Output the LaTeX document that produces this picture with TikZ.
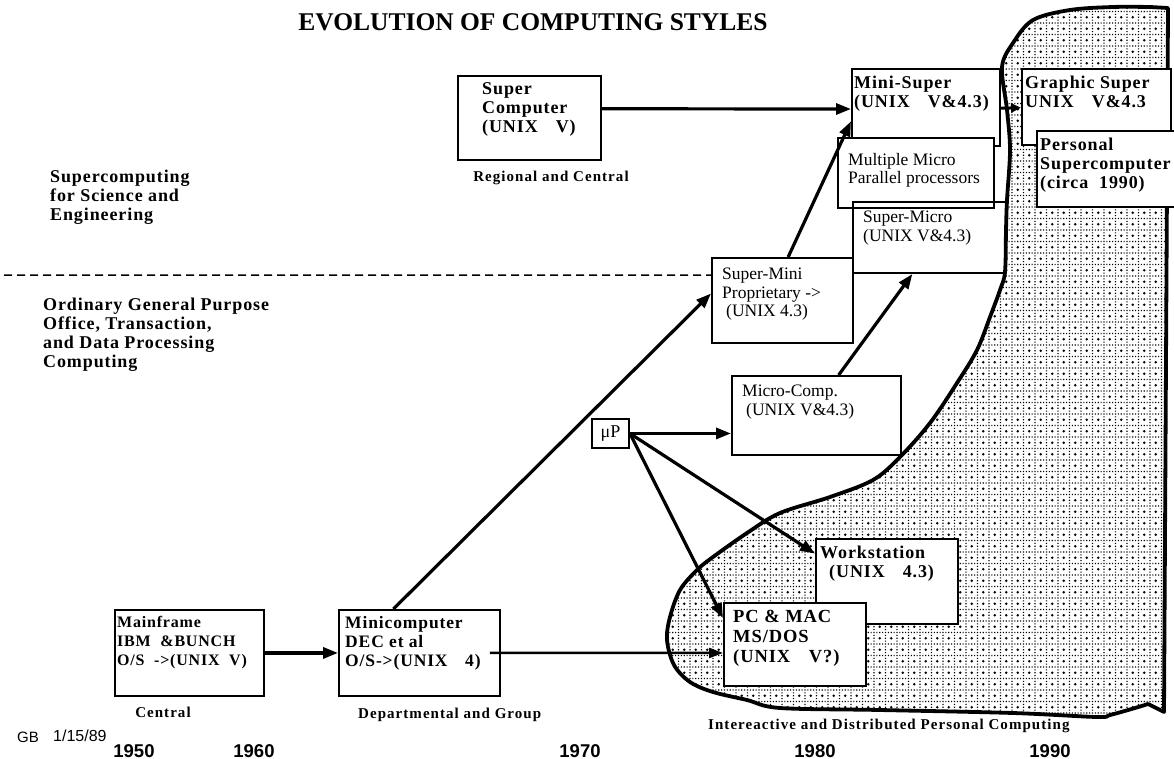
\documentclass[tikz,border=0pt]{standalone}
\usepackage{fontspec}
\setmainfont{Liberation Serif}
\setsansfont{Liberation Sans}
\newfontfamily\spacedserif{Liberation Serif}[LetterSpace=5]
\newfontfamily\labelserif{Liberation Serif}[LetterSpace=7]
\usetikzlibrary{arrows.meta,calc,patterns}

% dotted grid with a dot in the middle of every cell
\pgfdeclarepatternformonly{dotgrid}{\pgfqpoint{-1pt}{-1pt}}{\pgfqpoint{12.5pt}{12.5pt}}{\pgfqpoint{11.5pt}{11.5pt}}{%
  \pgfpathrectangle{\pgfqpoint{-0.6pt}{-0.6pt}}{\pgfqpoint{1.2pt}{1.2pt}}%
  \pgfpathrectangle{\pgfqpoint{2.275pt}{-0.6pt}}{\pgfqpoint{1.2pt}{1.2pt}}%
  \pgfpathrectangle{\pgfqpoint{5.15pt}{-0.6pt}}{\pgfqpoint{1.2pt}{1.2pt}}%
  \pgfpathrectangle{\pgfqpoint{8.025pt}{-0.6pt}}{\pgfqpoint{1.2pt}{1.2pt}}%
  \pgfpathrectangle{\pgfqpoint{-0.6pt}{2.275pt}}{\pgfqpoint{1.2pt}{1.2pt}}%
  \pgfpathrectangle{\pgfqpoint{-0.6pt}{5.15pt}}{\pgfqpoint{1.2pt}{1.2pt}}%
  \pgfpathrectangle{\pgfqpoint{-0.6pt}{8.025pt}}{\pgfqpoint{1.2pt}{1.2pt}}%
  \pgfpathcircle{\pgfqpoint{5.75pt}{5.75pt}}{1.45pt}%
  \pgfusepath{fill}%
}

\begin{document}
\begin{tikzpicture}[x=1pt,y=-1pt,
  box/.style={draw, line width=1.9pt, fill=white, inner sep=0pt, anchor=north west},
  openbox/.style={box, fill=none},
  txt/.style={anchor=north west, inner sep=0pt, align=left},
  bt/.style={txt, font=\spacedserif\bfseries\fontsize{18}{19}\selectfont},
  rt/.style={txt, font=\fontsize{17.5}{18.5}\selectfont},
  lbl/.style={inner sep=0pt, font=\labelserif\bfseries\fontsize{15}{17}\selectfont},
  yr/.style={inner sep=0pt, anchor=base, font=\sffamily\bfseries\fontsize{18.5}{20}\selectfont},
  arr/.style={line width=3.2pt, -{Triangle[length=15pt,width=11pt]}},
  blob/.style={pattern=dotgrid, draw, line width=3.8pt, line join=round}
]
\useasboundingbox (0,0) rectangle (1174,759);
\fill[white] (0,0) rectangle (1174,759);

% region of interactive and distributed personal computing
\path[blob] (1168,8) -- (1164,712) -- plot[smooth, tension=0.55] coordinates {
  (1148,704) (1135,708) (1110,715) (1097,717) (1013,713) (880,710) (780,708)
  (747,700) (713,692) (690,682) (674,665) (667,640) (670,617) (680,590)
  (697,570) (713,557) (747,533) (780,513) (830,497) (873,480) (900,457)
  (930,423) (957,383) (977,350) (990,317) (1000,290) (1005,272) (1006,230)
  (1007,200) (1010,150) (1007,110) (1002,67) (1013,43) (1033,20) (1070,10)
  (1113,7) (1150,7)} -- cycle;

% title
\node[anchor=base, inner sep=0pt, font=\bfseries\fontsize{25.5}{28}\selectfont] (title) at (533,31) {EVOLUTION OF COMPUTING STYLES};

% application areas
\node[bt] (sci) at (50,170) {Supercomputing\\for Science and\\Engineering};
\node[bt] (ord) at (43,298) {Ordinary General Purpose\\Office, Transaction,\\and Data Processing\\Computing};

% boxes
\node[box, minimum width=143pt, minimum height=84pt] (sc) at (457,75) {};
\node[bt] (sc-t) at (482,82) {Super\\Computer\\(UNIX\quad V)};
\node[lbl, anchor=base] (sc-l) at (551,182) {Regional and Central};

\node[box, minimum width=148pt, minimum height=77pt] (ms) at (851,68) {};
\node[bt] (ms-t) at (854,76) {Mini-Super\\(UNIX\quad V\&4.3)};

\node[box, minimum width=149pt, minimum height=76pt] (gs) at (1021,68) {};
\node[bt] (gs-t) at (1025,76) {Graphic Super\\UNIX\quad V\&4.3};

\node[box, minimum width=150pt, minimum height=76pt] (ps) at (1036,130) {};
\node[bt] (ps-t) at (1040,138) {Personal\\Supercomputer\\(circa\ \ 1990)};

\node[box, minimum width=156pt, minimum height=70pt] (mm) at (837,137) {};
\node[rt] (mm-t) at (848,153) {Multiple Micro\\Parallel processors};

\node[openbox, minimum width=153pt, minimum height=71pt] (smc) at (852,201) {};
\node[rt] (smc-t) at (863,211) {Super-Micro\\(UNIX V\&4.3)};

\node[box, minimum width=141pt, minimum height=85pt] (smi) at (711,257) {};
\node[rt] (smi-t) at (722,268) {Super-Mini\\Proprietary ->\\\hspace*{4pt}(UNIX 4.3)};

\node[box, minimum width=169pt, minimum height=79pt] (mcc) at (731,375) {};
\node[rt] (mcc-t) at (742,385) {Micro-Comp.\\\hspace*{4pt}(UNIX V\&4.3)};

\node[box, minimum width=37pt, minimum height=29pt, font=\fontsize{18}{19}\selectfont] (up) at (591,418) {μP};

\node[box, minimum width=142pt, minimum height=85pt] (ws) at (815,538) {};
\node[bt] (ws-t) at (820,546) {Workstation\\\hspace*{9pt}(UNIX\quad 4.3)};

\node[box, minimum width=142pt, minimum height=83pt] (pc) at (723,602) {};
\node[bt, font=\spacedserif\bfseries\fontsize{18.5}{20}\selectfont] (pc-t) at (733,610) {PC \& MAC\\MS/DOS\\(UNIX\quad V?)};

\node[box, minimum width=149pt, minimum height=86pt] (mf) at (114,609) {};
\node[bt, font=\spacedserif\bfseries\fontsize{16}{19}\selectfont] (mf-t) at (117,616) {Mainframe\\IBM\ \ \&BUNCH\\O/S\ \ ->(UNIX\ \ V)};
\node[lbl, anchor=base] (mf-l) at (163,717) {Central};

\node[box, minimum width=161pt, minimum height=86pt] (mc) at (338,609) {};
\node[bt, font=\spacedserif\bfseries\fontsize{17.5}{19}\selectfont] (mc-t) at (345,616) {Minicomputer\\DEC et al\\O/S->(UNIX\quad 4)};
\node[lbl, anchor=base west] (mc-l) at (358,718) {Departmental and Group};

\node[lbl, anchor=base west] (pers) at (708,729) {Intereactive and Distributed Personal Computing};

% boundary between the two kinds of computing
\coordinate (dl) at (4,275);
\draw[line width=1.5pt, dash pattern=on 8pt off 5pt] (dl) -- ($(smi.north west)!0.21!(smi.south west)$);

% time axis
\node[inner sep=0pt, anchor=base west, font=\sffamily\fontsize{15}{16}\selectfont] (gb) at (17,742) {GB};
\node[inner sep=0pt, anchor=base west, font=\sffamily\fontsize{16}{17}\selectfont] (date) at (53,741) {1/15/89};
\node[yr] (y50) at (134,757) {1950};
\node[yr] (y60) at (254,757) {1960};
\node[yr] (y70) at (580,757) {1970};
\node[yr] (y80) at (815,757) {1980};
\node[yr] (y90) at (1050,757) {1990};

% evolution paths
\draw[arr] ($(sc.north east)!0.393!(sc.south east)$) -- ($(ms.north west)!0.52!(ms.south west)$);
\draw[line width=3pt, -{Triangle[length=10pt,width=9pt]}] ($(ms.north east)!0.51!(ms.south east)$) -- ($(gs.north west)!0.51!(gs.south west)$);
\draw[arr] ($(smi.north west)!0.54!(smi.north east)$) -- ($(ms.north west)!0.675!(ms.south west)$);
\draw[arr] ($(mc.north west)!0.34!(mc.north east)$) -- ($(smi.north west)!0.42!(smi.south west)$);
\draw[line width=2.5pt, -{Triangle[length=14pt,width=10pt]}] ([xshift=-11pt]mc.east) -- ($(pc.north west)!0.6!(pc.south west)$);
\draw[arr] (mf.east) -- (mc.west);
\draw[arr] (up.east) -- (up.east -| mcc.west);
\draw[arr] (up.east) -- ($(ws.north west)!0.18!(ws.south west)$);
\draw[arr] (up.east) -- ($(pc.north west)!0.19!(pc.south west)$);
\draw[arr] ($(mcc.north west)!0.63!(mcc.north east)$) -- ($(smc.south west)!0.39!(smc.south east)$);
\end{tikzpicture}
\end{document}
